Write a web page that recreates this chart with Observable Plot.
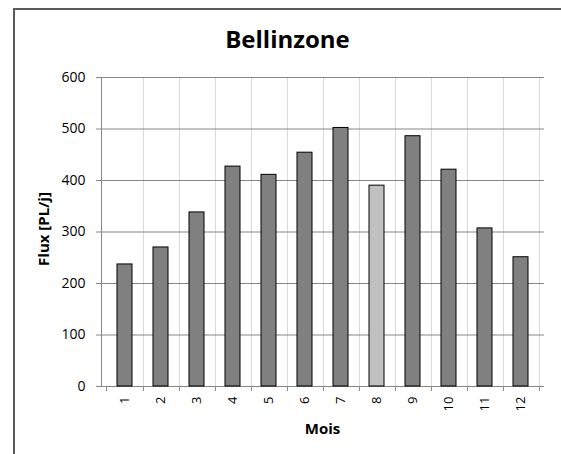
<!DOCTYPE html>
<html><head><meta charset="utf-8">
<script src="https://cdn.jsdelivr.net/npm/d3@7"></script>
<script src="https://cdn.jsdelivr.net/npm/@observablehq/plot@0.6"></script>
<style>html,body{margin:0;background:#fff;overflow:hidden} svg{display:block}</style>
</head><body><div id="chart"></div>
<script>
const title = "Bellinzone";
const xLabel = "Mois";
const yLabel = "Flux [PL/j]";
const months = [1, 2, 3, 4, 5, 6, 7, 8, 9, 10, 11, 12];
const flux = [237, 270, 338, 427, 411, 454, 502, 390, 486, 421, 307, 251];
const highlightMonth = 8;
const yTicks = [0, 100, 200, 300, 400, 500, 600];

const data = months.map((m, i) => ({month: m, flux: flux[i]}));
const W = 561, H = 454;
const mL = 101, mR = 17, mT = 77, mB = 68;
const step = (W - mL - mR) / months.length;

const chart = Plot.plot({
  width: W, height: H,
  marginLeft: mL, marginRight: mR, marginTop: mT, marginBottom: mB,
  style: {fontFamily: "'Open Sans', sans-serif", fontSize: "14px", background: "#fff", color: "#000", overflow: "hidden"},
  x: {type: "band", domain: months, paddingInner: 0.58, paddingOuter: 0.29, label: null},
  y: {domain: [0, 600], label: null},
  marks: [
    Plot.ruleX(months, {x: d => d, dx: step / 2, stroke: "#d9d9d9", strokeWidth: 1}),
    Plot.ruleY(yTicks, {y: d => d, stroke: "#868686", strokeWidth: 1}),
    Plot.frame({anchor: "left", stroke: "#868686"}),
    Plot.barY(data, {x: "month", y: "flux",
      fill: d => d.month === highlightMonth ? "#c0c0c0" : "#808080",
      stroke: "#000", strokeWidth: 1}),
    Plot.axisY({ticks: yTicks, tickSize: 5, tickPadding: 11, stroke: "#868686", fill: "#000", label: null, fontSize: 14}),
    Plot.axisX({tickSize: 0, tickRotate: -90, tickPadding: 10, fill: "#000", label: null, fontSize: 13}),
    Plot.axisX({tickSize: 5, text: null, dx: step / 2, stroke: "#868686", label: null}),
    Plot.axisX({ticks: [1], tickSize: 5, text: null, dx: -step / 2, stroke: "#868686", label: null})
  ]
});

const svg = d3.select(chart);
svg.append("rect")
  .attr("x", 14).attr("y", 9).attr("width", 600).attr("height", 500)
  .attr("fill", "none").attr("stroke", "#5a5a5a").attr("stroke-width", 2);
svg.append("text")
  .attr("x", 287.5).attr("y", 48).attr("text-anchor", "middle")
  .attr("font-size", 24).attr("font-weight", "bold").attr("fill", "#000")
  .attr("font-family", "'Open Sans', sans-serif")
  .text(title);
svg.append("text")
  .attr("x", mL + (W - mL - mR) / 2).attr("y", 434).attr("text-anchor", "middle")
  .attr("font-size", 15).attr("font-weight", "bold").attr("fill", "#000")
  .attr("font-family", "'Open Sans', sans-serif")
  .text(xLabel);
svg.append("text")
  .attr("transform", `translate(49,229) rotate(-90)`).attr("text-anchor", "middle")
  .attr("font-size", 15).attr("font-weight", "bold").attr("fill", "#000")
  .attr("font-family", "'Open Sans', sans-serif")
  .text(yLabel);

document.getElementById("chart").appendChild(chart);
</script>
</body></html>
